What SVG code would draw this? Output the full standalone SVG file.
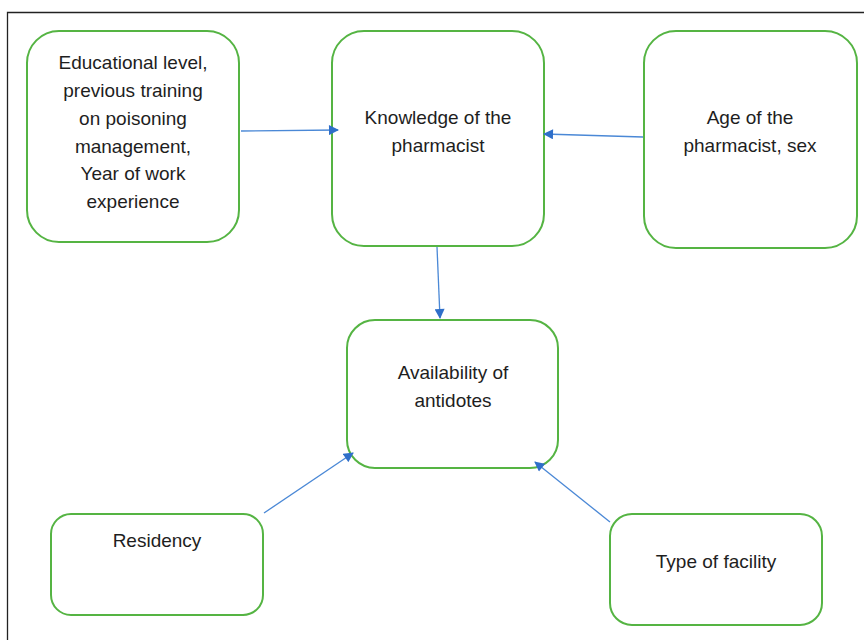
<svg xmlns="http://www.w3.org/2000/svg" width="864" height="640" viewBox="0 0 864 640">
<style>
.box{fill:#fff;stroke:#55b443;stroke-width:2}
.t{font-family:"Liberation Sans",Arial,sans-serif;font-size:19px;fill:#1e1e1e;text-anchor:middle}
.c{stroke:#4a88d6;stroke-width:1.3;fill:none}
</style>
<defs>
<marker id="ah" viewBox="0 0 10 10" refX="9" refY="5" markerWidth="11" markerHeight="10" markerUnits="userSpaceOnUse" orient="auto">
<path d="M0,0 L10,5 L0,10 z" fill="#2f6fc9"/>
</marker>
</defs>
<rect x="0" y="0" width="864" height="640" fill="#fff"/>
<path d="M7.5,640 L7.5,12.5 L864,12.5" fill="none" stroke="#222" stroke-width="1.3"/>
<g id="n1">
<rect class="box" x="27" y="31" width="212" height="211" rx="32"/>
<text class="t" x="133" y="69">Educational level,</text>
<text class="t" x="133" y="97">previous training</text>
<text class="t" x="133" y="125">on poisoning</text>
<text class="t" x="133" y="153">management,</text>
<text class="t" x="133" y="180">Year of work</text>
<text class="t" x="133" y="208">experience</text>
</g>
<g id="n2">
<rect class="box" x="332" y="31" width="212" height="215" rx="32"/>
<text class="t" x="438" y="124">Knowledge of the</text>
<text class="t" x="438" y="152">pharmacist</text>
</g>
<g id="n3">
<rect class="box" x="644" y="31" width="213" height="217" rx="32"/>
<text class="t" x="750" y="124">Age of the</text>
<text class="t" x="750" y="152">pharmacist, sex</text>
</g>
<g id="n4">
<rect class="box" x="347" y="320" width="211" height="148" rx="28"/>
<text class="t" x="453" y="379">Availability of</text>
<text class="t" x="453" y="407">antidotes</text>
</g>
<g id="n5">
<rect class="box" x="51" y="514" width="212" height="101" rx="20"/>
<text class="t" x="157" y="547">Residency</text>
</g>
<g id="n6">
<rect class="box" x="610" y="514" width="212" height="111" rx="22"/>
<text class="t" x="716" y="568">Type of facility</text>
</g>
<g id="connectors">
<line class="c" x1="241" y1="131" x2="338" y2="130" marker-end="url(#ah)"/>
<line class="c" x1="643" y1="137" x2="544" y2="134" marker-end="url(#ah)"/>
<line class="c" x1="437" y1="247" x2="440" y2="318" marker-end="url(#ah)"/>
<line class="c" x1="264" y1="513" x2="353" y2="453" marker-end="url(#ah)"/>
<line class="c" x1="610" y1="522" x2="535" y2="462" marker-end="url(#ah)"/>
</g>
</svg>
